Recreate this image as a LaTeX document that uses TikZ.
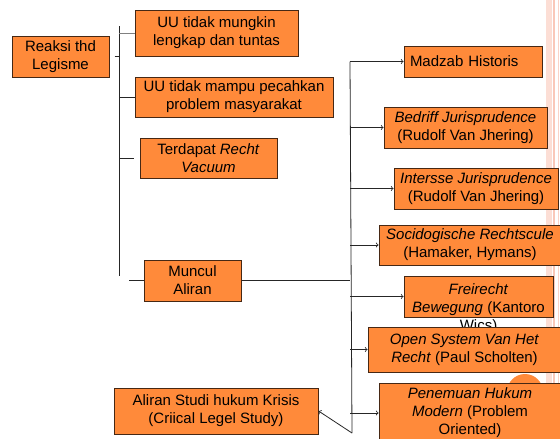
\documentclass[tikz,border=0pt]{standalone}
\usepackage{fontspec}
\setmainfont{Liberation Sans}
\usetikzlibrary{arrows}
\definecolor{boxorange}{RGB}{255,138,58}
\definecolor{boxline}{RGB}{70,40,20}
\definecolor{stripe}{RGB}{250,200,185}

\tikzset{
  box/.style={draw=boxline, line width=1pt, fill=boxorange, align=center,
    inner sep=2pt, font=\fontsize{15}{18}\selectfont},
  link/.style={draw=black!85, line width=.8pt},
  arr/.style={link, ->}
}

\begin{document}
\begin{tikzpicture}[x=1pt,y=-1pt]
  \useasboundingbox[fill=white] (0,0) rectangle (560,439);

  % slide background
  \fill[stripe!60] (546,0) rectangle (552,439);
  \draw[stripe, line width=1.5pt] (554,0) -- (554,439);
  \draw[stripe!80, line width=1pt] (558,0) -- (558,439);
  \fill[boxorange] (525,392) circle[radius=18];

  % left side
  \node[box, minimum width=97, minimum height=41] (reaksi) at (60.5,56.5) {Reaksi thd\\Legisme};
  \node[box, minimum width=163, minimum height=46] (uu1) at (216.5,33) {UU tidak mungkin\\lengkap dan tuntas};
  \node[box, minimum width=198, minimum height=40] (uu2) at (234,97) {UU tidak mampu pecahkan\\problem masyarakat};
  \node[box, minimum width=137, minimum height=40] (recht) at (208.5,158) {Terdapat \textit{Recht}\\\textit{Vacuum}};
  \node[box, minimum width=97, minimum height=41] (muncul) at (192.5,280.5) {Muncul\\Aliran};
  \node[box, minimum width=204, minimum height=46] (studi) at (216,411) {Aliran Studi hukum Krisis\\(Criical Legel Study)};

  \coordinate (ltop) at (119,26);
  \coordinate (lbot) at (119,276);
  \draw[link] (ltop) -- (lbot);
  \draw[link, shorten <=5pt] (reaksi.east) -- (ltop |- reaksi.east);
  \draw[link, black!50] (ltop |- uu1.west) -- (uu1.west);
  \draw[link] (ltop |- uu2.west) -- (uu2.west);
  \draw[link, shorten >=6pt] (ltop |- recht.west) -- (recht.west);
  \draw[link, shorten <=10pt] (ltop |- muncul.west) -- (muncul.west);

  % right side
  \node[box, text width=126, align=left, inner sep=6pt, minimum height=31] (madzab) at (473,61.5) {Madzab Historis};
  \node[box, minimum width=163, minimum height=41] (bedriff) at (465.5,127.5) {\textit{Bedriff Jurisprudence}\\(Rudolf Van Jhering)};
  \node[box, minimum width=164, minimum height=41] (intersse) at (476,188.5) {\textit{Intersse Jurisprudence}\\(Rudolf Van Jhering)};
  \node[box, minimum width=182, minimum height=40] (socio) at (470,245) {\textit{Socidogische Rechtscule}\\(Hamaker, Hymans)};
  \node[box, minimum width=149, minimum height=41] (freirecht) at (478.5,296.5) {};
  \node[align=center, font=\fontsize{15}{18}\selectfont] (freitext) at (478.5,309) {\textit{Freirecht}\\\textit{Bewegung} (Kantoro\\Wics)};
  \node[box, minimum width=193, minimum height=45] (open) at (464.5,349.5) {\textit{Open System Van Het}\\\textit{Recht} (Paul Scholten)};
  \node[box, minimum width=182, minimum height=60] (penemuan) at (470,413) {\textit{Penemuan Hukum}\\\textit{Modern} (Problem\\Oriented)};

  \coordinate (rtop) at (350,61.5);
  \coordinate (rbot) at (352,433);
  \draw[link] (rtop) -- (rbot);
  \draw[link] (muncul.east) -- (rtop |- muncul.east);
  \draw[arr] (rtop) -- (madzab.west);
  \draw[arr] (rtop |- bedriff.west) -- (bedriff.west);
  \draw[arr] (rtop |- intersse.west) -- (intersse.west);
  \draw[arr] (rtop |- socio.west) -- (socio.west);
  \draw[arr] (rtop |- freirecht.west) -- (freirecht.west);
  \draw[arr] (rtop |- open.west) -- (open.west);
  \draw[arr] (rtop |- penemuan.west) -- (penemuan.west);
  \draw[arr] (rbot) -- (studi.east);
\end{tikzpicture}
\end{document}
